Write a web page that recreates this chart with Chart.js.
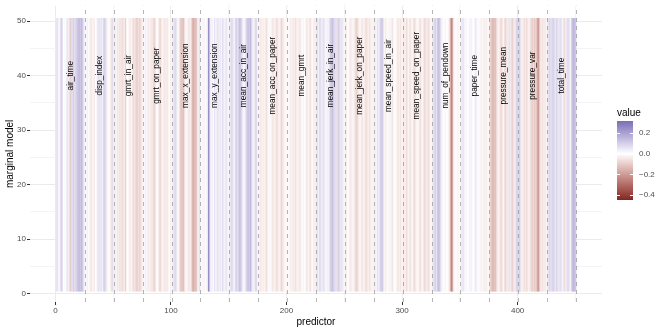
<!DOCTYPE html>
<html>
<head>
<meta charset="utf-8">
<script src="https://cdn.jsdelivr.net/npm/chart.js@4.4.1/dist/chart.umd.min.js"></script>
<style>
html, body { margin: 0; padding: 0; background: #fff; }
</style>
</head>
<body>
<canvas id="chart" width="664" height="332"></canvas>
<script>
// predictor groups, 25 predictors each
var groupNames = [
    'air_time', 'disp_index', 'gmrt_in_air', 'gmrt_on_paper', 'max_x_extension',
    'max_y_extension', 'mean_acc_in_air', 'mean_acc_on_paper', 'mean_gmrt',
    'mean_jerk_in_air', 'mean_jerk_on_paper', 'mean_speed_in_air', 'mean_speed_on_paper',
    'num_of_pendown', 'paper_time', 'pressure_mean', 'pressure_var', 'total_time'
];
var groupSize = 25;
var nModels = 50;

// value per predictor (1..450), one row per group
var predictorValues = [
    0.05, 0.06, 0.02, 0.02, 0.08, 0.10, 0.00, 0.01, -0.01, 0.03, 0.06, 0.02, -0.11, -0.07, 0.07, 0.10, 0.06, 0.09, 0.11, 0.13, 0.14, 0.12, 0.15, 0.10, 0.04,
    0.02, 0.01, 0.03, -0.01, 0.02, -0.05, -0.03, -0.02, -0.04, 0.00, 0.02, 0.05, 0.06, 0.04, 0.06, 0.03, 0.08, 0.10, 0.06, -0.02, -0.01, 0.01, -0.03, 0.06, 0.07,
    -0.02, -0.04, -0.02, -0.05, -0.03, -0.06, -0.04, -0.07, -0.05, -0.04, -0.09, -0.01, 0.00, -0.03, -0.04, -0.02, -0.05, -0.07, -0.05, -0.08, -0.10, -0.06, -0.08, -0.07, -0.04,
    -0.02, 0.01, 0.03, 0.02, -0.03, -0.04, -0.02, -0.05, -0.04, -0.07, -0.08, -0.05, 0.00, -0.01, -0.06, -0.08, -0.04, -0.02, -0.04, -0.05, -0.03, -0.05, -0.02, -0.01, -0.03,
    0.02, 0.04, 0.06, 0.08, 0.05, 0.02, -0.02, -0.07, -0.12, -0.10, -0.13, -0.06, -0.02, 0.01, -0.04, -0.05, -0.03, -0.08, -0.14, -0.17, -0.11, -0.15, -0.05, 0.03, 0.06,
    0.02, 0.01, -0.02, -0.03, 0.00, 0.02, 0.04, 0.30, 0.05, 0.02, 0.03, 0.01, 0.06, 0.02, 0.04, 0.06, 0.03, 0.05, 0.02, 0.07, 0.04, 0.02, 0.06, 0.03, 0.02,
    0.03, 0.06, 0.08, 0.05, 0.02, 0.07, 0.10, 0.06, 0.11, 0.14, 0.09, 0.05, -0.02, 0.02, 0.06, 0.10, 0.13, 0.10, 0.15, 0.08, 0.04, -0.02, 0.06, 0.09, 0.03,
    -0.01, -0.03, -0.05, -0.02, -0.04, -0.02, -0.04, -0.06, -0.03, -0.01, 0.01, -0.02, -0.05, -0.04, -0.02, -0.05, -0.07, -0.04, -0.02, -0.05, -0.08, -0.05, -0.03, -0.01, -0.02,
    -0.01, 0.01, -0.02, -0.04, -0.02, -0.05, -0.03, -0.06, -0.04, -0.02, -0.04, -0.05, -0.02, 0.01, 0.02, 0.00, -0.03, -0.05, -0.02, -0.04, -0.06, -0.02, -0.01, -0.04, -0.03,
    0.04, 0.06, 0.03, 0.08, 0.06, 0.02, 0.07, 0.05, -0.02, 0.02, -0.03, 0.03, 0.09, 0.11, 0.13, 0.10, 0.07, -0.06, 0.06, 0.10, 0.08, 0.05, 0.06, 0.04, 0.02,
    -0.02, -0.04, -0.01, 0.01, -0.03, -0.05, -0.02, 0.02, -0.04, -0.07, -0.09, -0.06, -0.03, -0.01, -0.04, -0.05, -0.02, -0.04, -0.07, -0.05, -0.03, -0.05, -0.04, -0.02, -0.03,
    0.02, 0.04, 0.02, 0.06, 0.03, 0.07, 0.10, 0.12, 0.06, -0.02, -0.04, -0.01, 0.01, -0.02, 0.02, -0.03, -0.05, -0.02, 0.00, -0.01, -0.04, -0.05, -0.03, -0.05, -0.02,
    -0.03, -0.05, -0.02, -0.07, -0.04, -0.02, -0.06, -0.04, -0.01, -0.05, -0.07, -0.04, -0.02, -0.01, -0.04, -0.06, -0.03, -0.02, -0.05, -0.08, -0.05, -0.03, -0.07, -0.04, -0.02,
    0.02, 0.05, 0.07, 0.10, 0.06, 0.11, 0.14, 0.10, 0.04, 0.02, -0.01, 0.01, -0.02, 0.00, -0.01, -0.04, -0.14, -0.25, -0.17, -0.03, 0.01, -0.01, 0.02, -0.02, 0.01,
    0.02, 0.04, 0.06, 0.03, 0.01, 0.02, 0.00, -0.01, 0.02, 0.03, 0.01, 0.00, 0.02, 0.05, 0.02, -0.01, 0.01, -0.02, -0.03, -0.01, -0.04, -0.02, -0.04, -0.02, -0.01,
    -0.05, -0.09, -0.12, -0.15, -0.11, -0.13, -0.07, -0.04, -0.02, -0.05, -0.08, -0.05, -0.02, -0.06, -0.08, -0.04, 0.04, 0.06, -0.04, -0.07, -0.09, -0.05, 0.03, 0.08, 0.10,
    0.07, 0.10, 0.05, -0.02, -0.04, -0.06, -0.04, -0.07, -0.05, -0.02, -0.05, -0.08, -0.10, -0.07, -0.11, -0.08, -0.13, -0.23, -0.12, -0.05, -0.04, -0.06, -0.03, -0.05, -0.02,
    0.04, 0.06, 0.09, 0.06, 0.08, 0.10, 0.07, 0.05, 0.09, 0.06, 0.04, 0.07, 0.06, 0.02, -0.05, -0.07, 0.03, 0.06, 0.08, 0.05, 0.02, 0.10, 0.14, 0.16, 0.12
];

// colour scale limits (as on the colourbar)
var fillLimits = [-0.448, 0.316];

var xLabelTicks = [0, 100, 200, 300, 400];
var xGridTicks = [0, 50, 100, 150, 200, 250, 300, 350, 400, 450];
var yLabelTicks = [0, 10, 20, 30, 40, 50];
var yGridTicks = [0, 5, 10, 15, 20, 25, 30, 35, 40, 45, 50];
var legendBreaks = [0.2, 0.0, -0.2, -0.4];
var groupLabelY = 40;

// diverging fill like scale_fill_gradient2 (lab interpolation)
var lowCol = '#832424', midCol = '#FFFFFF', highCol = '#3A3A98';

function toLin(c) { c /= 255; return c <= 0.04045 ? c / 12.92 : Math.pow((c + 0.055) / 1.055, 2.4); }
function fromLin(c) {
    var v = c <= 0.0031308 ? 12.92 * c : 1.055 * Math.pow(c, 1 / 2.4) - 0.055;
    return Math.max(0, Math.min(255, Math.round(v * 255)));
}
var WX = 0.95047, WY = 1.0, WZ = 1.08883;
function fl(t) { return t > 216 / 24389 ? Math.cbrt(t) : (24389 / 27 * t + 16) / 116; }
function flInv(t) { var t3 = t * t * t; return t3 > 216 / 24389 ? t3 : (116 * t - 16) / (24389 / 27); }
function hexToLab(hex) {
    var r = toLin(parseInt(hex.substr(1, 2), 16));
    var g = toLin(parseInt(hex.substr(3, 2), 16));
    var b = toLin(parseInt(hex.substr(5, 2), 16));
    var X = 0.4124564 * r + 0.3575761 * g + 0.1804375 * b;
    var Y = 0.2126729 * r + 0.7151522 * g + 0.0721750 * b;
    var Z = 0.0193339 * r + 0.1191920 * g + 0.9503041 * b;
    var fx = fl(X / WX), fy = fl(Y / WY), fz = fl(Z / WZ);
    return [116 * fy - 16, 500 * (fx - fy), 200 * (fy - fz)];
}
function labToCss(L, a, bb) {
    var fy = (L + 16) / 116, fx = fy + a / 500, fz = fy - bb / 200;
    var X = WX * flInv(fx), Y = WY * flInv(fy), Z = WZ * flInv(fz);
    var r = 3.2404542 * X - 1.5371385 * Y - 0.4985314 * Z;
    var g = -0.9692660 * X + 1.8760108 * Y + 0.0415560 * Z;
    var b = 0.0556434 * X - 0.2040259 * Y + 1.0572252 * Z;
    return 'rgb(' + fromLin(r) + ',' + fromLin(g) + ',' + fromLin(b) + ')';
}
var labStops = [hexToLab(lowCol), hexToLab(midCol), hexToLab(highCol)];
function ramp(t) {
    t = Math.max(0, Math.min(1, t));
    var a = t < 0.5 ? labStops[0] : labStops[1];
    var b = t < 0.5 ? labStops[1] : labStops[2];
    var u = t < 0.5 ? t / 0.5 : (t - 0.5) / 0.5;
    return labToCss(a[0] + (b[0] - a[0]) * u, a[1] + (b[1] - a[1]) * u, a[2] + (b[2] - a[2]) * u);
}
var vMin = fillLimits[0], vMax = fillLimits[1];
var extent = Math.max(Math.abs(vMin), Math.abs(vMax));
function fillFor(v) { return ramp(v / extent / 2 + 0.5); }

var barData = predictorValues.map(function (v, i) {
    return { x: i + 1, y: [0.5, nModels + 0.5] };
});
var barColors = predictorValues.map(fillFor);

function fmtLegend(v) {
    var s = Math.abs(v).toFixed(1);
    return v < 0 ? '\u2212' + s : s;
}

var overlayPlugin = {
    id: 'groupOverlay',
    afterDatasetsDraw: function (chart) {
        var ctx = chart.ctx, xs = chart.scales.x, ys = chart.scales.y, area = chart.chartArea;
        ctx.save();
        ctx.strokeStyle = 'rgba(120,120,120,0.55)';
        ctx.lineWidth = 1;
        ctx.setLineDash([4, 4]);
        for (var k = 1; k <= groupNames.length; k++) {
            var px = Math.round(xs.getPixelForValue(k * groupSize + 0.5)) + 0.5;
            ctx.beginPath();
            ctx.moveTo(px, area.bottom);
            ctx.lineTo(px, area.top);
            ctx.stroke();
        }
        ctx.setLineDash([]);
        ctx.fillStyle = '#000';
        ctx.font = '8.3px "Liberation Sans", Arial, sans-serif';
        ctx.textAlign = 'center';
        ctx.textBaseline = 'middle';
        groupNames.forEach(function (name, k) {
            var cx = xs.getPixelForValue(k * groupSize + (groupSize + 1) / 2);
            var cy = ys.getPixelForValue(groupLabelY);
            ctx.save();
            ctx.translate(cx, cy);
            ctx.rotate(-Math.PI / 2);
            ctx.fillText(name, 0, 0);
            ctx.restore();
        });
        ctx.restore();
    },
    afterDraw: function (chart) {
        var ctx = chart.ctx;
        var bx = 617, bw = 16, bt = 121, bh = 79;
        ctx.save();
        ctx.fillStyle = '#000';
        ctx.font = '10px "Liberation Sans", Arial, sans-serif';
        ctx.textAlign = 'left';
        ctx.textBaseline = 'alphabetic';
        ctx.fillText('value', bx, 116);
        for (var p = 0; p < bh; p++) {
            var v = vMax - (p + 0.5) / bh * (vMax - vMin);
            ctx.fillStyle = fillFor(v);
            ctx.fillRect(bx, bt + p, bw, 1);
        }
        ctx.font = '8px "Liberation Sans", Arial, sans-serif';
        ctx.textBaseline = 'middle';
        legendBreaks.forEach(function (v) {
            var y = bt + (vMax - v) / (vMax - vMin) * bh;
            var yy = Math.round(y) + 0.5;
            ctx.strokeStyle = '#fff';
            ctx.lineWidth = 1;
            ctx.beginPath();
            ctx.moveTo(bx, yy); ctx.lineTo(bx + 3, yy);
            ctx.moveTo(bx + bw - 3, yy); ctx.lineTo(bx + bw, yy);
            ctx.stroke();
            ctx.fillStyle = '#4D4D4D';
            ctx.fillText(fmtLegend(v), 639, y);
        });
        ctx.restore();
    }
};

Chart.defaults.font.family = '"Liberation Sans", Arial, sans-serif';

new Chart(document.getElementById('chart').getContext('2d'), {
    type: 'bar',
    data: {
        datasets: [{
            data: barData,
            backgroundColor: barColors,
            borderWidth: 0,
            barPercentage: 1,
            categoryPercentage: 1
        }]
    },
    options: {
        responsive: false,
        animation: false,
        devicePixelRatio: 1,
        layout: { padding: { left: 0, top: 3, right: 62, bottom: 0 } },
        plugins: { legend: { display: false }, tooltip: { enabled: false } },
        scales: {
            x: {
                type: 'linear',
                min: -22,
                max: 473,
                offset: false,
                afterBuildTicks: function (s) { s.ticks = xGridTicks.map(function (v) { return { value: v }; }); },
                afterFit: function (s) { s.height = 30; },
                border: { display: false },
                grid: {
                    offset: false,
                    color: function (c) { return c.tick && xLabelTicks.indexOf(c.tick.value) >= 0 ? '#EBEBEB' : '#F4F4F4'; },
                    tickColor: function (c) { return c.tick && xLabelTicks.indexOf(c.tick.value) >= 0 ? '#333333' : 'rgba(0,0,0,0)'; },
                    tickLength: 3
                },
                ticks: {
                    autoSkip: false,
                    maxRotation: 0,
                    padding: 1,
                    color: '#4D4D4D',
                    font: { size: 8 },
                    callback: function (v) { return xLabelTicks.indexOf(v) >= 0 ? String(v) : ''; }
                },
                title: { display: true, text: 'predictor', color: '#000', font: { size: 10 }, padding: { top: 0, bottom: 4 } }
            },
            y: {
                type: 'linear',
                min: -1.5,
                max: 52.8,
                afterBuildTicks: function (s) { s.ticks = yGridTicks.map(function (v) { return { value: v }; }); },
                afterFit: function (s) { s.width = 30; },
                border: { display: false },
                grid: {
                    color: function (c) { return c.tick && yLabelTicks.indexOf(c.tick.value) >= 0 ? '#EBEBEB' : '#F4F4F4'; },
                    tickColor: function (c) { return c.tick && yLabelTicks.indexOf(c.tick.value) >= 0 ? '#333333' : 'rgba(0,0,0,0)'; },
                    tickLength: 3
                },
                ticks: {
                    autoSkip: false,
                    padding: 1,
                    color: '#4D4D4D',
                    font: { size: 8 },
                    callback: function (v) { return yLabelTicks.indexOf(v) >= 0 ? String(v) : ''; }
                },
                title: { display: true, text: 'marginal model', color: '#000', font: { size: 10 }, padding: { top: 4, bottom: 4 } }
            }
        }
    },
    plugins: [overlayPlugin]
});
</script>
</body>
</html>
